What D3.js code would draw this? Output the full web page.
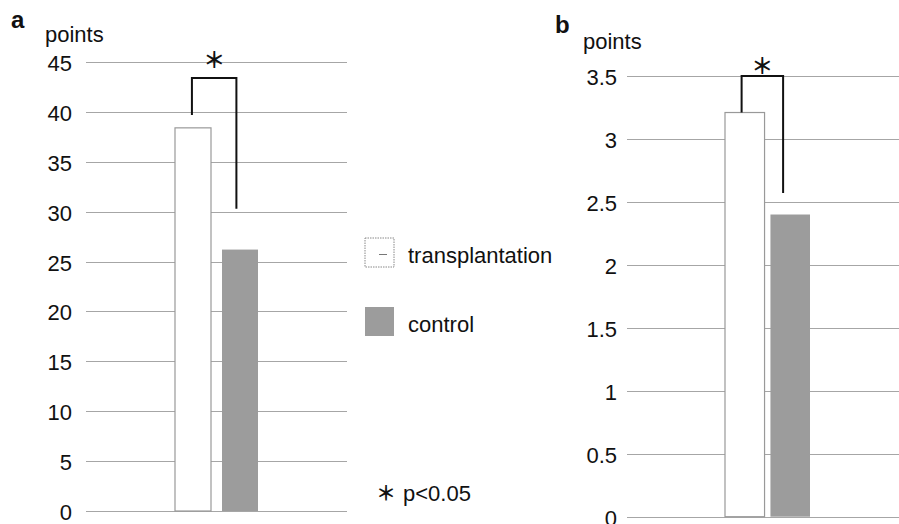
<!DOCTYPE html>
<html>
<head>
<meta charset="utf-8">
<script src="https://cdn.jsdelivr.net/npm/d3@7"></script>
<style>
  body { margin: 0; background: #fff; }
  text { font-family: "Liberation Sans", Arial, sans-serif; fill: #111; }
</style>
</head>
<body>
<div id="chart"></div>
<script>
// values
var categories = ["transplantation", "control"],
	valuesA    = [38.4, 26.2],
	valuesB    = [3.21, 2.40],
	ticksA     = [0, 5, 10, 15, 20, 25, 30, 35, 40, 45],
	ticksB     = [0, 0.5, 1, 1.5, 2, 2.5, 3, 3.5],
	bracketA   = [39.7, 43.4, 30.3], // left leg bottom, top, right leg bottom
	bracketB   = [3.21, 3.5, 2.57],
	legendText = ["transplantation", "control"],
	noteText   = "p<0.05",
	star       = "\uFF0A";

var w = 899, h = 524,
	barFill = ["#ffffff", "#9c9c9c"],
	barLine = ["#999999", "none"];

var svg = d3.select("#chart").append("svg")
	.attr("width", w)
	.attr("height", h);

// one panel: label, axis title, grid, bars, bracket
function panel(opt) {
	var y = d3.scaleLinear().domain([0, opt.max]).range([opt.y0, opt.y1]);
	var x = d3.scaleBand().domain(categories).range(opt.xr).paddingInner(opt.pad).paddingOuter(0);

	var g = svg.append("g");

	// grid lines
	g.selectAll(".grid")
		.data(opt.ticks)
		.enter().append("line")
		.attr("x1", opt.gx[0]).attr("x2", opt.gx[1])
		.attr("y1", function(d){ return Math.round(y(d)) + 0.5; })
		.attr("y2", function(d){ return Math.round(y(d)) + 0.5; })
		.attr("stroke", "#a6a6a6")
		.attr("stroke-width", 1);

	// tick labels
	g.selectAll(".tl")
		.data(opt.ticks)
		.enter().append("text")
		.attr("x", opt.lx)
		.attr("y", function(d){ return y(d) + 9; })
		.attr("text-anchor", "end")
		.style("font-size", "22px")
		.text(function(d){ return d; });

	// bars
	g.selectAll(".bar")
		.data(opt.values)
		.enter().append("rect")
		.attr("x", function(d,i){ return x(categories[i]); })
		.attr("width", x.bandwidth())
		.attr("y", function(d){ return y(d); })
		.attr("height", function(d){ return y(0) - y(d); })
		.attr("fill", function(d,i){ return barFill[i]; })
		.attr("stroke", function(d,i){ return barLine[i]; })
		.attr("stroke-width", 1.2);

	// significance bracket
	var bl = x(categories[0]) + x.bandwidth() * opt.bk[0],
		br = x(categories[1]) + x.bandwidth() * opt.bk[1];
	g.append("path")
		.attr("d", "M" + bl + "," + y(opt.bracket[0]) +
			"V" + y(opt.bracket[1]) + "H" + br + "V" + y(opt.bracket[2]))
		.attr("fill", "none")
		.attr("stroke", "#111")
		.attr("stroke-width", 2);

	g.append("text")
		.attr("x", (bl + br) / 2)
		.attr("y", y(opt.bracket[1]) + opt.starDy)
		.attr("text-anchor", "middle")
		.style("font-family", "'Noto Sans CJK JP', sans-serif")
		.style("font-weight", "bold")
		.style("font-size", "22px")
		.text(star);

	// panel letter and axis title
	g.append("text")
		.attr("x", opt.letter[0]).attr("y", opt.letter[1])
		.style("font-size", "24px").style("font-weight", "bold")
		.text(opt.name);
	g.append("text")
		.attr("x", opt.title[0]).attr("y", opt.title[1])
		.style("font-size", "22px")
		.text("points");
}

panel({
	name: "a", max: 45, ticks: ticksA, values: valuesA, bracket: bracketA,
	y0: 511, y1: 62, xr: [175, 258], pad: 0.234, gx: [86, 347], lx: 72,
	bk: [0.47, 0.4], starDy: -10, letter: [11, 28], title: [45, 42]
});

panel({
	name: "b", max: 3.5, ticks: ticksB, values: valuesB, bracket: bracketB,
	y0: 516.7, y1: 76, xr: [725, 810], pad: 0.13, gx: [627, 899], lx: 617,
	bk: [0.42, 0.32], starDy: -2, letter: [555, 33], title: [583, 49]
});

// legend
var legend = svg.append("g").selectAll("g")
	.data(legendText)
	.enter().append("g")
	.attr("transform", function(d,i){ return "translate(365," + (238 + i * 69) + ")"; });

legend.append("rect")
	.attr("width", 29).attr("height", 29)
	.attr("fill", function(d,i){ return barFill[i]; })
	.attr("stroke", function(d,i){ return i == 0 ? "#888" : "none"; })
	.attr("stroke-dasharray", "1.5,1");

legend.filter(function(d,i){ return i == 0; }).append("line")
	.attr("x1", 14).attr("x2", 22).attr("y1", 16.5).attr("y2", 16.5)
	.attr("stroke", "#777");

legend.append("text")
	.attr("x", 43).attr("y", 25)
	.style("font-size", "22px")
	.text(function(d){ return d; });

// footnote
svg.append("text")
	.attr("x", 386).attr("y", 501)
	.attr("text-anchor", "middle")
	.style("font-family", "'Noto Sans CJK JP', sans-serif")
	.style("font-weight", "bold")
	.style("font-size", "20px")
	.text(star);
svg.append("text")
	.attr("x", 403).attr("y", 501)
	.style("font-size", "22px")
	.text(noteText);
</script>
</body>
</html>
